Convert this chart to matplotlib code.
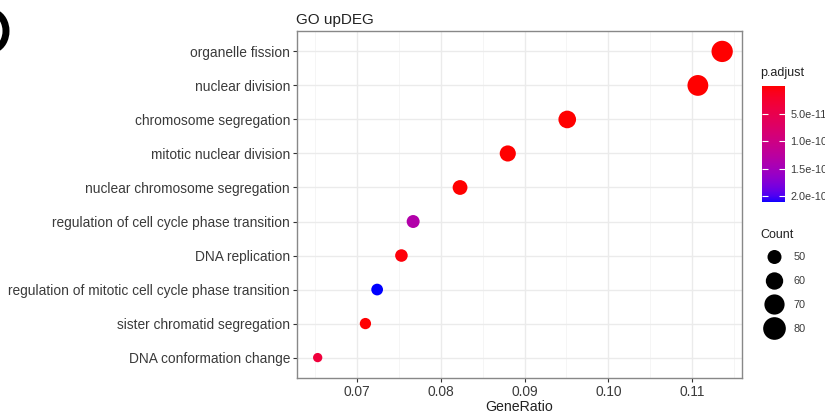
import matplotlib
matplotlib.use("Agg")
import matplotlib.pyplot as plt
import numpy as np
from matplotlib.colors import LinearSegmentedColormap, Normalize
from matplotlib.cm import ScalarMappable
from matplotlib.patches import Arc

plt.rcParams['font.family'] = ['Liberation Sans', 'DejaVu Sans']

# GO terms, bottom to top as drawn
terms = [
    "DNA conformation change",
    "sister chromatid segregation",
    "regulation of mitotic cell cycle phase transition",
    "DNA replication",
    "regulation of cell cycle phase transition",
    "nuclear chromosome segregation",
    "mitotic nuclear division",
    "chromosome segregation",
    "nuclear division",
    "organelle fission",
]
gene_ratio = [0.0653, 0.0710, 0.0724, 0.0753, 0.0767, 0.0823, 0.0880, 0.0951, 0.1107, 0.1136]
count = [49, 53, 54, 56, 57, 62, 66, 71, 83, 85]
p_adjust = [3.5e-11, 1.0e-12, 2.1e-10, 4.0e-12, 1.35e-10, 2.0e-13, 5.0e-14, 1.0e-13, 3.5e-15, 1.2e-15]

x_ticks = [0.07, 0.08, 0.09, 0.10, 0.11]
cbar_ticks = [5.0e-11, 1.0e-10, 1.5e-10, 2.0e-10]
legend_counts = [50, 60, 70, 80]


def srgb_to_lab(c):
    c = np.asarray(c, float)
    lin = np.where(c <= 0.04045, c / 12.92, ((c + 0.055) / 1.055) ** 2.4)
    m = np.array([[0.4124, 0.3576, 0.1805],
                  [0.2126, 0.7152, 0.0722],
                  [0.0193, 0.1192, 0.9505]])
    xyz = m @ lin / np.array([0.95047, 1.0, 1.08883])
    f = np.where(xyz > 0.008856, np.cbrt(xyz), 7.787 * xyz + 16 / 116)
    return np.array([116 * f[1] - 16, 500 * (f[0] - f[1]), 200 * (f[1] - f[2])])


def lab_to_srgb(lab):
    L, a, b = lab
    fy = (L + 16) / 116
    f = np.array([fy + a / 500, fy, fy - b / 200])
    xyz = np.where(f ** 3 > 0.008856, f ** 3, (f - 16 / 116) / 7.787)
    xyz = xyz * np.array([0.95047, 1.0, 1.08883])
    m = np.array([[3.2406, -1.5372, -0.4986],
                  [-0.9689, 1.8758, 0.0415],
                  [0.0557, -0.2040, 1.0570]])
    lin = m @ xyz
    c = np.where(lin <= 0.0031308, 12.92 * lin, 1.055 * np.clip(lin, 0, None) ** (1 / 2.4) - 0.055)
    return np.clip(c, 0, 1)


lab_lo = srgb_to_lab([1, 0, 0])
lab_hi = srgb_to_lab([0, 0, 1])
ramp = [lab_to_srgb(lab_lo + t * (lab_hi - lab_lo)) for t in np.linspace(0, 1, 256)]
cmap = LinearSegmentedColormap.from_list("red_blue_lab", ramp)
norm = Normalize(vmin=min(p_adjust), vmax=max(p_adjust))


def point_size(n):
    d = np.sqrt(86.5 + 10.2 * (np.asarray(n) - 49))  # pixels
    return (d * 0.72) ** 2


def legend_size(n):
    d = np.sqrt(196 + 10.6 * (np.asarray(n) - 50))
    return (d * 0.72) ** 2


fig = plt.figure(figsize=(8.25, 4.16), dpi=100)
ax = fig.add_axes([297 / 825, 1 - 378 / 416, 445 / 825, 347 / 416])

y = np.arange(len(terms))
ax.scatter(gene_ratio, y, s=point_size(count), c=p_adjust, cmap=cmap, norm=norm,
           edgecolors='none', zorder=3)

ax.set_xlim(0.06283, 0.11597)
ax.set_ylim(-0.6, len(terms) - 0.4)
ax.set_yticks(y)
ax.set_yticklabels(terms)
ax.set_xticks(x_ticks)
ax.set_xticklabels([f"{t:.2f}" for t in x_ticks])
ax.set_xticks([0.065, 0.075, 0.085, 0.095, 0.105, 0.115], minor=True)
ax.grid(True, which='major', color='#EBEBEB', lw=1.0, zorder=0)
ax.grid(True, which='minor', axis='x', color='#F4F4F4', lw=0.6, zorder=0)
ax.set_axisbelow(True)
ax.tick_params(axis='both', which='major', length=3, width=0.8, color='#333333',
               labelsize=9.9, labelcolor='#3A3A3A', pad=2)
ax.tick_params(axis='x', which='minor', length=0)
for sp in ax.spines.values():
    sp.set_color('#888888')
    sp.set_linewidth(1.0)
ax.set_xlabel("GeneRatio", fontsize=10.2, labelpad=1, color='#222222')
ax.set_title("GO upDEG", loc='left', fontsize=11, pad=5, x=-0.002, color='#222222')

# colour bar
cax = fig.add_axes([762 / 825, 1 - 202 / 416, 23 / 825, 116 / 416])
cb = fig.colorbar(ScalarMappable(norm=norm, cmap=cmap), cax=cax)
cb.outline.set_visible(False)
cax.invert_yaxis()
cb.set_ticks(cbar_ticks)
cb.set_ticklabels([f"{t:.1e}" for t in cbar_ticks])
cax.tick_params(axis='y', direction='in', length=4, width=0.8, color='white',
                left=True, right=True, labelsize=7.8, labelcolor='#3A3A3A', pad=4)

# overlay in pixel coords for legend texts and size key
over = fig.add_axes([0, 0, 1, 1], zorder=5)
over.set_xlim(0, 825)
over.set_ylim(416, 0)
over.axis('off')
over.patch.set_alpha(0)
over.text(760, 73, "p.adjust", fontsize=9, va='center', ha='left', color='#222222')
over.text(760, 235, "Count", fontsize=9, va='center', ha='left', color='#222222')
leg_y = [257, 281, 304.5, 328.5]
over.scatter([774.5] * len(legend_counts), leg_y, s=legend_size(legend_counts),
             color='black', edgecolors='none')
for n, yy in zip(legend_counts, leg_y):
    over.text(794, yy, str(n), fontsize=7.8, color='#3A3A3A', va='center', ha='left')

# cropped panel letter at the top-left corner
over.add_patch(Arc((-9, 31), 30, 38, theta1=-75, theta2=75, lw=5, color='black'))

fig.savefig("out.png", dpi=100)
